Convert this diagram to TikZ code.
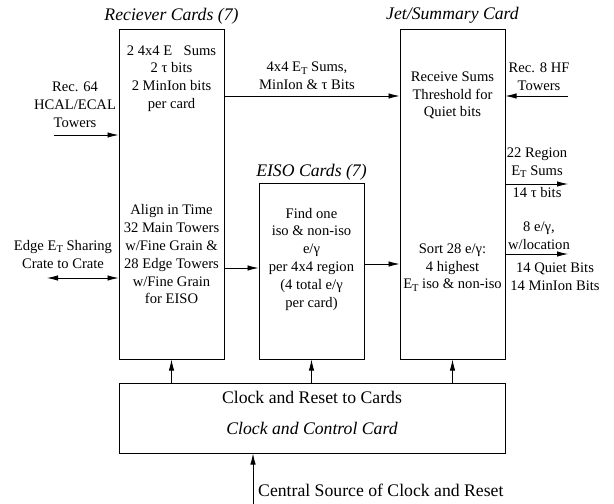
\documentclass[tikz,border=0pt]{standalone}
\usepackage{fontspec}
\setmainfont{Liberation Serif}
\usetikzlibrary{arrows.meta,positioning,calc}
\newcommand{\ET}{E\raisebox{-0.35ex}{\fontsize{10.5}{10}\selectfont T}}

\begin{document}
\begin{tikzpicture}[
    x=1pt, y=-1pt,
    font=\fontsize{14.6}{17.8}\selectfont,
    >={Latex[length=11pt,width=5.5pt]},
    card/.style={draw, line width=1pt, minimum width=105pt, inner sep=0pt},
    txt/.style={align=center, inner sep=0pt},
    big/.style={txt, font=\fontsize{17.7}{20}\selectfont},
    title/.style={big, font=\fontsize{17.7}{20}\selectfont\itshape},
    arrow/.style={->, line width=0.8pt}
]
\useasboundingbox (0,0) rectangle (614,504);

% cards
\node[card, minimum height=330pt] (rec) at (171.5,194) {};
\node[card, minimum height=176pt] (eiso) at (311.5,271) {};
\node[card, minimum height=330pt] (jet) at (452.5,194) {};
\node[card, minimum width=386pt, minimum height=70pt] (clk) at (312,418) {};

\node[title] (rectitle) at (171.5,16) {Reciever Cards (7)};
\node[title] (jettitle) at (452.5,15) {Jet/Summary Card};
\node[title] (eisotitle) at (311.5,172) {EISO Cards (7)};

% text in the cards
\node[txt] (rectop) at (171.5,78.5) {2 4x4 E$_{\phantom{T}}$ Sums\\2 τ bits\\2 MinIon bits\\per card};
\node[txt] (recbot) at (171.5,254.5) {Align in Time\\32 Main Towers\\w/Fine Grain \&\\28 Edge Towers\\w/Fine Grain\\for EISO};
\node[txt] (eisotxt) at (311.5,259) {Find one\\iso \& non-iso\\e/γ\\per 4x4 region\\(4 total e/γ\\per card)};
\node[txt] (jettop) at (452.5,95.5) {Receive Sums\\Threshold for\\Quiet bits};
\node[txt] (jetbot) at (452.5,267.5) {Sort 28 e/γ:\\4 highest\\\ET{} iso \& non-iso};
\node[big] (clktop) at (312,397) {Clock and Reset to Cards};
\node[title] (clkbot) at (312,428) {Clock and Control Card};

% labels outside
\node[txt] (hcal) at (75,105) {Rec. 64\\HCAL/ECAL\\Towers};
\node[txt] (edge) at (63,254.5) {Edge \ET{} Sharing\\Crate to Crate};
\node[txt] (sums) at (307,76) {4x4 \ET{} Sums,\\MinIon \& τ Bits};
\node[txt] (hf) at (539,76.5) {Rec. 8 HF\\Towers};
\node[txt] (region) at (537,163) {22 Region\\\ET{} Sums};
\node[txt] (taubits) at (537,193) {14 τ bits};
\node[txt] (egamma) at (539,235.5) {8 e/γ,\\w/location};
\node[txt] (quiet) at (555,276.5) {14 Quiet Bits\\14 MinIon Bits};
\node[big, anchor=west] (source) at (258,490) {Central Source of Clock and Reset};

% free ends
\coordinate (hcalin) at (54,135);
\coordinate (edgeout) at (47,278);
\coordinate (hfin) at (568,96);
\coordinate (regout) at (568,184);
\coordinate (egout) at (568,254);
\coordinate (srcin) at (253,504);

% connectors
\draw[arrow] (hcalin) -- (rec.west |- hcalin);
\draw[arrow, <->] (edgeout) -- (rec.west |- edgeout);
\draw[arrow] (rec.east |- hfin) -- (jet.west |- hfin);
\draw[arrow] (hfin) -- (jet.east |- hfin);
\draw[arrow] (jet.east |- regout) -- (regout);
\draw[arrow] (jet.east |- egout) -- (egout);
\draw[arrow] (rec.east |- 0,268) -- (eiso.west |- 0,268);
\draw[arrow] (eiso.east |- 0,264) -- (jet.west |- 0,264);
\draw[arrow] (clk.north -| rec) -- (rec.south);
\draw[arrow] (clk.north -| eiso) -- (eiso.south);
\draw[arrow] (clk.north -| jet) -- (jet.south);
\draw[arrow] (srcin) -- (clk.south -| srcin);
\end{tikzpicture}
\end{document}
